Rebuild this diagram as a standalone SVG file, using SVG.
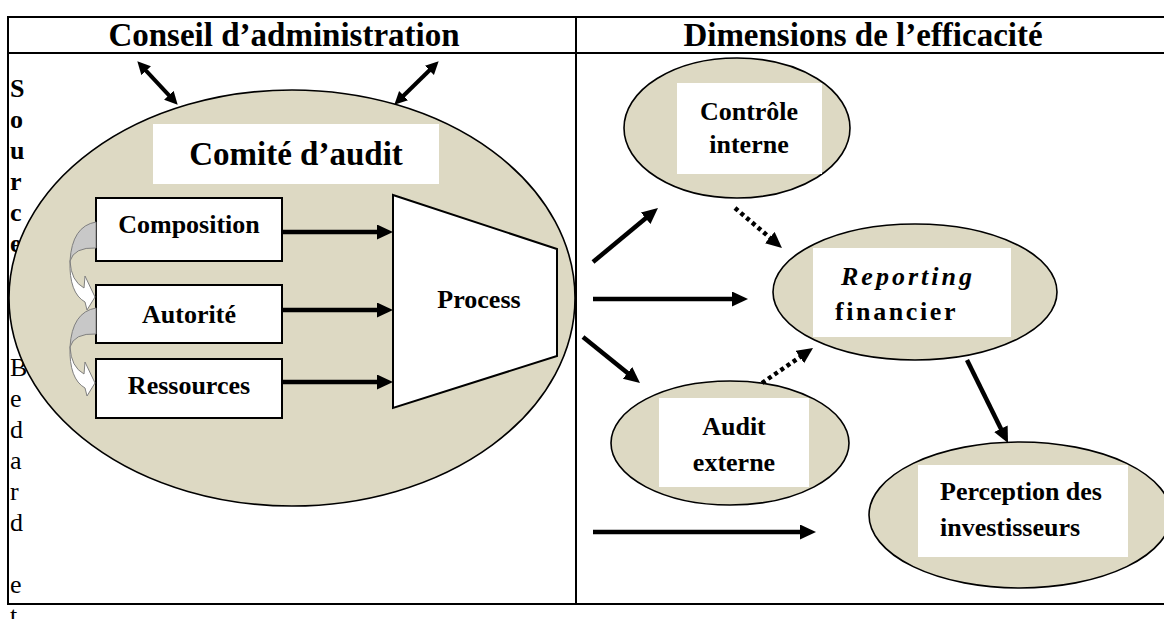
<svg xmlns="http://www.w3.org/2000/svg" width="1164" height="619" viewBox="0 0 1164 619">
<defs>
<style>
.b{font-family:"Liberation Serif","Times New Roman",serif;font-weight:bold;fill:#000}
.r{font-family:"Liberation Serif","Times New Roman",serif;font-weight:normal;fill:#000}
.h{font-size:33px;text-anchor:middle}
.n{font-size:26px}
.c{text-anchor:middle}
.frame{stroke:#000;stroke-width:2;fill:none}
.oval{fill:#DDD9C3;stroke:#000;stroke-width:1.6}
.box{fill:#fff;stroke:#000;stroke-width:2}
.wbox{fill:#fff;stroke:none}
.arr{stroke:#000;stroke-width:4.5;fill:none;marker-end:url(#ah)}
.dot{stroke:#000;stroke-width:4.5;fill:none;stroke-dasharray:4 3.5;marker-end:url(#ah)}
.dbl{stroke:#000;stroke-width:4;fill:none;marker-start:url(#ah2);marker-end:url(#ah2)}
.cback{fill:#C8C8C8;stroke:#7F7F7F;stroke-width:1}
.cfront{fill:#fff;stroke:#7F7F7F;stroke-width:1}
</style>
<marker id="ah" markerUnits="userSpaceOnUse" markerWidth="18" markerHeight="16" refX="2" refY="7.5" orient="auto"><path d="M0,0 L16,7.5 L0,15 Z" fill="#000"/></marker>
<marker id="ah2" markerUnits="userSpaceOnUse" markerWidth="14" markerHeight="14" refX="2" refY="6.5" orient="auto-start-reverse"><path d="M0,0 L13,6.5 L0,13 Z" fill="#000"/></marker>
</defs>
<rect x="0" y="0" width="1164" height="619" fill="#fff"/>
<g id="table">
<line class="frame" x1="8" y1="17" x2="1164" y2="17"/>
<line class="frame" x1="8" y1="53" x2="1164" y2="53"/>
<line class="frame" x1="8" y1="604" x2="1164" y2="604"/>
<line class="frame" x1="8" y1="16" x2="8" y2="605"/>
<line class="frame" x1="576" y1="16" x2="576" y2="605"/>
<text class="b h" x="284" y="46">Conseil d’administration</text>
<text class="b h" x="863" y="46">Dimensions de l’efficacité</text>
</g>
<g id="source-note">
<text class="b n"><tspan x="10" y="97">S</tspan><tspan x="10" y="128">o</tspan><tspan x="10" y="159">u</tspan><tspan x="10" y="190">r</tspan><tspan x="10" y="221">c</tspan><tspan x="10" y="252">e</tspan></text>
<text class="r n"><tspan x="10" y="376">B</tspan><tspan x="10" y="407">e</tspan><tspan x="10" y="438">d</tspan><tspan x="10" y="469">a</tspan><tspan x="10" y="500">r</tspan><tspan x="10" y="531">d</tspan><tspan x="10" y="593">e</tspan><tspan x="10" y="624">t</tspan></text>
</g>
<g id="comite-audit">
<ellipse class="oval" cx="292" cy="298" rx="283" ry="208"/>
<rect class="wbox" x="153" y="124" width="286" height="60"/>
<text class="b c" x="296" y="165" font-size="33">Comité d’audit</text>
</g>
<g id="composition">
<rect class="box" x="96" y="198" width="186" height="63"/>
<text class="b n c" x="189" y="233">Composition</text>
</g>
<g id="autorite">
<rect class="box" x="96" y="285" width="186" height="58"/>
<text class="b n c" x="189" y="323">Autorité</text>
</g>
<g id="ressources">
<rect class="box" x="96" y="359" width="186" height="59"/>
<text class="b n c" x="189" y="394">Ressources</text>
</g>
<g id="process">
<polygon class="box" points="393,195 557,249 557,356 393,408"/>
<text class="b n c" x="479" y="308">Process</text>
</g>
<g id="controle-interne">
<ellipse class="oval" cx="737" cy="128" rx="113" ry="70"/>
<rect class="wbox" x="677" y="83" width="145" height="91"/>
<text class="b n c" x="749" y="120">Contrôle</text>
<text class="b n c" x="749" y="153">interne</text>
</g>
<g id="reporting-financier">
<ellipse class="oval" cx="915" cy="292" rx="142" ry="68"/>
<rect class="wbox" x="813" y="248" width="198" height="89"/>
<text class="b n" x="841" y="285" font-style="italic" letter-spacing="3">Reporting</text>
<text class="b n" x="835" y="320" letter-spacing="2.6">financier</text>
</g>
<g id="audit-externe">
<ellipse class="oval" cx="730" cy="443" rx="119" ry="62"/>
<rect class="wbox" x="659" y="398" width="150" height="89"/>
<text class="b n c" x="734" y="435">Audit</text>
<text class="b n c" x="734" y="471">externe</text>
</g>
<g id="perception-investisseurs">
<ellipse class="oval" cx="1020" cy="515" rx="151" ry="73"/>
<rect class="wbox" x="918" y="465" width="210" height="92"/>
<text class="b n" x="940" y="500">Perception des</text>
<text class="b n" x="940" y="536">investisseurs</text>
</g>
<g id="connectors">
<line class="dbl" x1="144.8" y1="69.3" x2="170.2" y2="96.7"/>
<line class="dbl" x1="430.8" y1="69" x2="402.2" y2="97"/>
<path class="cback" d="M96,222 Q72,226 70,261 Q74,247 96,248 Z"/>
<path class="cfront" d="M70,261 Q71,281 84,288 L85,276 L95,297 L87,310 L85,302 Q69,293 70,261 Z"/>
<path class="cback" d="M96,308 Q72,312 70,347 Q74,333 96,334 Z"/>
<path class="cfront" d="M70,347 Q71,367 84,374 L85,362 L95,383 L87,396 L85,388 Q69,379 70,347 Z"/>
<line class="arr" x1="282" y1="232" x2="379" y2="232"/>
<line class="arr" x1="282" y1="310" x2="379" y2="310"/>
<line class="arr" x1="282" y1="382" x2="379" y2="382"/>
<line class="arr" x1="593" y1="262" x2="647.2" y2="217"/>
<line class="arr" x1="593" y1="299" x2="734" y2="299"/>
<line class="arr" x1="583" y1="337" x2="629.1" y2="374.2"/>
<line class="arr" x1="593" y1="532" x2="802" y2="532"/>
<line class="arr" x1="967" y1="360" x2="1001.8" y2="430.5" stroke-width="5"/>
<line class="dot" x1="735" y1="208" x2="771.3" y2="238.9"/>
<line class="dot" x1="762" y1="383" x2="801.5" y2="355.9"/>
</g>
</svg>
